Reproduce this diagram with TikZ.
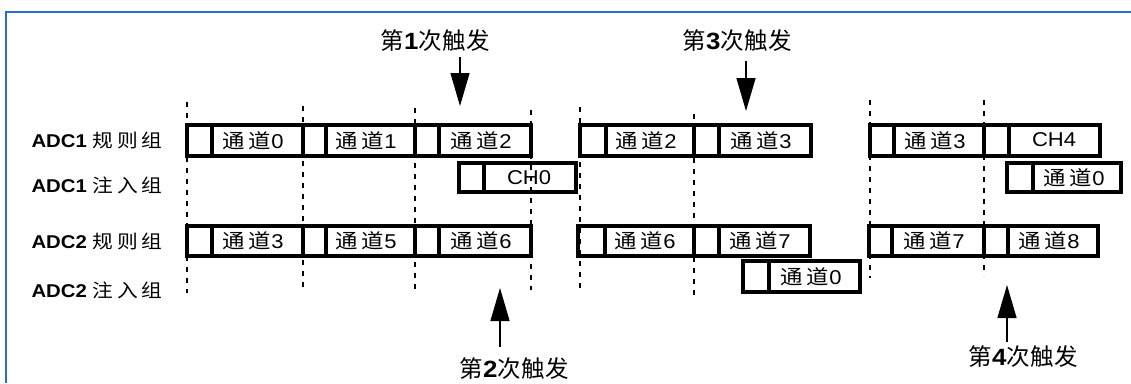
\documentclass[tikz,border=0pt]{standalone}
\usepackage{fontspec}
\setmainfont{Liberation Sans}[FakeStretch=1.1]
\newfontfamily\cjk[LetterSpace=20,FakeStretch=1.12]{Noto Sans CJK SC}
\newfontfamily\cjkn[LetterSpace=2]{Noto Sans CJK SC}
\usetikzlibrary{arrows.meta}
\definecolor{frameblue}{RGB}{40,110,200}

\begin{document}
\begin{tikzpicture}[x=1pt,y=-1pt,
  box/.style={line width=3.4pt},
  sync/.style={line width=1.5pt,dash pattern=on 5pt off 6pt},
  trig/.style={line width=1.3pt,-{Triangle[length=33pt,width=19pt]}},
  cell/.style={font=\fontsize{20}{22}\selectfont},
  grp/.style={anchor=west,font=\fontsize{18.5}{22}\selectfont},
  note/.style={font=\fontsize{23.5}{26}\selectfont}]
\useasboundingbox (0,0) rectangle (1131,383);
\draw[frameblue,line width=1.5pt] (1131,12) -- (6,12) -- (6,383);

% group labels
\node[grp] (adc1r) at (28,140) {\textbf{ADC1} {\cjk 规则组}};
\node[grp] (adc1j) at (28,185) {\textbf{ADC1} {\cjk 注入组}};
\node[grp] (adc2r) at (28,241) {\textbf{ADC2} {\cjk 规则组}};
\node[grp] (adc2j) at (28,290) {\textbf{ADC2} {\cjk 注入组}};

% sync lines
\foreach \x/\t/\b in {187/102/293,303/106/290,415/108/290,531/110/290,
    580/107/288,694/114/296,870/100/278,984/100/276}
  \draw[sync] (\x,\t) -- (\x,\b);

% ADC1 regular
\draw[box] (187,125) rectangle (531,156);
\draw[box] (212,125) -- (212,156) (303,125) -- (303,156) (326,125) -- (326,156)
  (415,125) -- (415,156) (439,125) -- (439,156);
\node[cell] (a1r0) at (253,141) {{\cjk 通道}0};
\node[cell] (a1r1) at (366,141) {{\cjk 通道}1};
\node[cell] (a1r2) at (481,141) {{\cjk 通道}2};
\draw[box] (580,125) rectangle (811,156);
\draw[box] (606,125) -- (606,156) (694,125) -- (694,156) (719,125) -- (719,156);
\node[cell] (a1r3) at (646,141) {{\cjk 通道}2};
\node[cell] (a1r4) at (761,141) {{\cjk 通道}3};
\draw[box] (870,125) rectangle (1100,156);
\draw[box] (894,125) -- (894,156) (984,125) -- (984,156) (1009,125) -- (1009,156);
\node[cell] (a1r5) at (935,141) {{\cjk 通道}3};
\node[cell] (a1r6) at (1054,140) {CH4};

% ADC1 injected
\draw[box] (459,163) rectangle (576,192);
\draw[box] (484,163) -- (484,192);
\node[cell] (a1j0) at (529,178) {CH0};
\draw[box] (1007,163) rectangle (1121,192);
\draw[box] (1033,163) -- (1033,192);
\node[cell] (a1j1) at (1074,178) {{\cjk 通道}0};

% ADC2 regular
\draw[box] (187,226) rectangle (531,256);
\draw[box] (212,226) -- (212,256) (303,226) -- (303,256) (326,226) -- (326,256)
  (415,226) -- (415,256) (439,226) -- (439,256);
\node[cell] (a2r0) at (253,241) {{\cjk 通道}3};
\node[cell] (a2r1) at (366,241) {{\cjk 通道}5};
\node[cell] (a2r2) at (481,241) {{\cjk 通道}6};
\draw[box] (578,226) rectangle (810,256);
\draw[box] (605,226) -- (605,256) (694,226) -- (694,256) (719,226) -- (719,256);
\node[cell] (a2r3) at (645,241) {{\cjk 通道}6};
\node[cell] (a2r4) at (760,241) {{\cjk 通道}7};
\draw[box] (869,226) rectangle (1098,256);
\draw[box] (892,226) -- (892,256) (984,226) -- (984,256) (1008,226) -- (1008,256);
\node[cell] (a2r5) at (934,241) {{\cjk 通道}7};
\node[cell] (a2r6) at (1049,241) {{\cjk 通道}8};

% ADC2 injected
\draw[box] (743,261) rectangle (860,292);
\draw[box] (769,261) -- (769,292);
\node[cell] (a2j0) at (811,277) {{\cjk 通道}0};

% triggers
\node[note] (trig1) at (435,41) {{\cjkn 第}\textbf{1}{\cjkn 次触发}};
\node[note] (trig3) at (737,41) {{\cjkn 第}\textbf{3}{\cjkn 次触发}};
\node[note] (trig2) at (514,369) {{\cjkn 第}\textbf{2}{\cjkn 次触发}};
\node[note] (trig4) at (1023,357) {{\cjkn 第}\textbf{4}{\cjkn 次触发}};
\coordinate (hit1) at (460,106);
\coordinate (hit3) at (746,111);
\coordinate (hit2) at (500,288);
\coordinate (hit4) at (1007,285);
\draw[trig] ([yshift=-2pt]trig1.south -| hit1) -- (hit1);
\draw[trig] ([yshift=-6pt]trig3.south -| hit3) -- (hit3);
\draw[trig] ([yshift=8pt]trig2.north -| hit2) -- (hit2);
\draw[trig] ([yshift=1pt]trig4.north -| hit4) -- (hit4);
\end{tikzpicture}
\end{document}
